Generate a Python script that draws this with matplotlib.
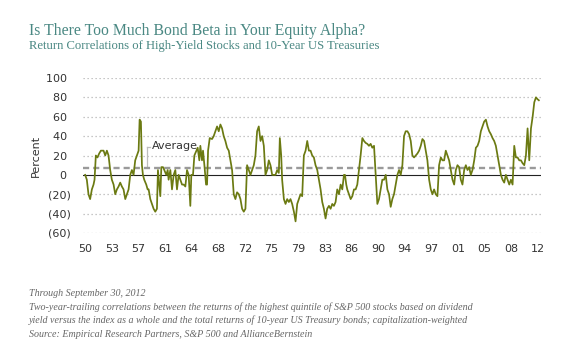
import matplotlib
matplotlib.use("Agg")
import matplotlib.pyplot as plt
import numpy as np

# ---- data ----
years = [
    1950.00, 1950.23, 1950.46, 1950.69, 1950.93, 1951.16, 1951.30, 1951.48, 1951.71, 1951.94,
    1952.18, 1952.55, 1952.78, 1953.01, 1953.24, 1953.47, 1953.70, 1953.94, 1954.17, 1954.40,
    1954.63, 1954.86, 1955.09, 1955.32, 1955.56, 1955.79, 1956.02, 1956.25, 1956.48, 1956.71,
    1956.94, 1957.18, 1957.41, 1957.55, 1957.73, 1957.87, 1958.01, 1958.19, 1958.47, 1958.66,
    1958.80, 1959.03, 1959.26, 1959.49, 1959.72, 1959.95, 1960.09, 1960.28, 1960.42, 1960.56,
    1960.79, 1960.97, 1961.25, 1961.44, 1961.57, 1961.81, 1962.04, 1962.27, 1962.50, 1962.73,
    1962.96, 1963.19, 1963.43, 1963.66, 1963.89, 1964.12, 1964.35, 1964.58, 1964.72, 1964.95,
    1965.14, 1965.42, 1965.60, 1965.83, 1965.97, 1966.20, 1966.34, 1966.53, 1966.76, 1966.90,
    1967.04, 1967.27, 1967.59, 1967.82, 1968.06, 1968.29, 1968.52, 1968.75, 1968.98, 1969.21,
    1969.44, 1969.68, 1969.91, 1970.14, 1970.37, 1970.60, 1970.83, 1971.06, 1971.30, 1971.53,
    1971.76, 1971.99, 1972.22, 1972.45, 1972.69, 1972.92, 1973.15, 1973.38, 1973.61, 1973.84,
    1974.07, 1974.31, 1974.54, 1974.77, 1975.00, 1975.23, 1975.46, 1975.69, 1975.93, 1976.16,
    1976.39, 1976.62, 1976.85, 1976.99, 1977.18, 1977.31, 1977.55, 1977.78, 1978.01, 1978.24,
    1978.47, 1978.70, 1978.94, 1979.17, 1979.40, 1979.63, 1979.86, 1980.09,
    1980.32, 1980.56, 1980.79, 1981.02, 1981.25, 1981.48, 1981.71, 1981.94, 1982.18, 1982.41,
    1982.64, 1982.87, 1983.10, 1983.33, 1983.56, 1983.80, 1984.03, 1984.26, 1984.49, 1984.72,
    1984.95, 1985.19, 1985.42, 1985.65, 1985.88, 1986.02, 1986.20, 1986.34, 1986.57, 1986.81,
    1987.04, 1987.27, 1987.50, 1987.73, 1987.96, 1988.19, 1988.43, 1988.66, 1988.89, 1989.12,
    1989.35, 1989.58, 1989.81, 1990.05, 1990.28, 1990.51, 1990.74, 1990.97, 1991.20, 1991.44,
    1991.67, 1991.90, 1992.13, 1992.36, 1992.59, 1992.82, 1993.06, 1993.29, 1993.52, 1993.75,
    1993.98, 1994.21, 1994.44, 1994.68, 1994.91, 1995.14, 1995.37, 1995.60, 1995.83, 1996.06,
    1996.30, 1996.53, 1996.76, 1996.99, 1997.22, 1997.45, 1997.69, 1997.92, 1998.15, 1998.38,
    1998.61, 1998.84, 1999.07, 1999.31, 1999.54, 1999.77, 2000.00, 2000.23, 2000.46, 2000.69,
    2000.93, 2001.16, 2001.39, 2001.62, 2001.85, 2002.08, 2002.31, 2002.55, 2002.78, 2003.01,
    2003.24, 2003.47, 2003.70, 2003.94, 2004.17, 2004.40, 2004.63, 2004.86, 2005.09, 2005.32,
    2005.56, 2005.79, 2006.02, 2006.25, 2006.48, 2006.71, 2006.94, 2007.18, 2007.41, 2007.64,
    2007.87, 2008.10, 2008.33, 2008.56, 2008.80, 2009.03, 2009.26, 2009.49, 2009.72, 2009.95,
    2010.19, 2010.42, 2010.65, 2010.88, 2011.11, 2011.34, 2011.57, 2011.81, 2012.04, 2012.27,
    2012.50, 2012.73, 2012.90,
]
correlation = [
    0, -5, -20, -25, -15, -10, -5, 20, 18, 22,
    25, 25, 20, 25, 20, 5, -5, -10, -20, -15,
    -12, -8, -12, -15, -25, -20, -15, 0, 5, 0,
    15, 20, 25, 57, 55, 10, 0, -5, -10, -15,
    -15, -25, -30, -35, -38, -35, 5, -10, -22, 8,
    8, 5, 0, 5, -5, 5, -15, 0, 5, -15,
    0, -5, -10, -10, -12, 5, 0, -32, 0, 0,
    20, 25, 28, 15, 30, 15, 25, 10, -10, -10,
    25, 38, 37, 40, 45, 50, 45, 52, 48, 40,
    35, 28, 25, 15, 5, -20, -25, -18, -20, -25,
    -35, -38, -35, 10, 5, 0, 5, 10, 20, 45,
    50, 35, 40, 30, 0, 5, 15, 10, 0, 0,
    0, 5, 2, 38, 20, -5, -25, -30, -25, -28,
    -25, -30, -38, -48, -30, -25, -20, -22,
    20, 25, 35, 25, 25, 20, 18, 10, 5, -5,
    -15, -28, -35, -45, -35, -32, -35, -30, -32, -28,
    -15, -20, -10, -15, 0, 0, -10, -15, -20, -25,
    -22, -15, -15, -10, 5, 20, 38, 35, 33, 32,
    30, 32, 28, 30, 0, -30, -25, -15, -5, -5,
    0, -15, -20, -33, -25, -20, -10, 0, 5, 0,
    10, 40, 45, 45, 42, 35, 20, 18, 20, 22,
    25, 30, 37, 35, 25, 15, -5, -15, -20, -15,
    -20, -22, 10, 18, 15, 15, 25, 20, 15, 5,
    -5, -10, 5, 10, 8, -5, -10, 5, 10, 5,
    8, 0, 5, 15, 28, 30, 35, 45, 50, 55,
    57, 50, 45, 42, 38, 35, 30, 20, 10, 0,
    -5, -8, 0, -5, -10, -5, -10, 30, 18, 18,
    15, 15, 12, 10, 20, 48, 15, 48, 60, 75,
    80, 78, 77,
]
average = 7.5
tick_labels = ["50", "53", "57", "61", "64", "68", "72", "75", "79",
               "83", "86", "90", "94", "97", "01", "05", "08", "12"]
y_ticks = [-60, -40, -20, 0, 20, 40, 60, 80, 100]

title = "Is There Too Much Bond Beta in Your Equity Alpha?"
subtitle = "Return Correlations of High-Yield Stocks and 10-Year US Treasuries"
notes = [
    "Through September 30, 2012",
    "Two-year-trailing correlations between the returns of the highest quintile of S&P 500 stocks based on dividend",
    "yield versus the index as a whole and the total returns of 10-year US Treasury bonds; capitalization-weighted",
    "Source: Empirical Research Partners, S&P 500 and AllianceBernstein",
]

# ---- figure ----
W, H = 580, 361
fig = plt.figure(figsize=(W / 100, H / 100), dpi=100)
fig.patch.set_facecolor("white")

def fx(px):
    return px / W

def fy(py):
    return 1 - py / H

ax = fig.add_axes([fx(83), fy(233), fx(541) - fx(83), fy(78) - fy(233)])
ax.set_xlim(1949.7, 2013.2)
ax.set_ylim(-60, 100)
for s in ax.spines.values():
    s.set_visible(False)

# gridlines
for v in y_ticks:
    if v != 0:
        ax.axhline(v, color="#b5b5b5", lw=0.9, ls=(0, (1, 2.2)), zorder=1)
ax.axhline(0, color="#222222", lw=0.8, zorder=2)
ax.axhline(average, color="#9a9a9a", lw=1.7, ls=(0, (2.6, 1.7)), zorder=3)

ax.plot(years, correlation, color="#6b7a12", lw=1.25, zorder=4, solid_joinstyle="round")

# ticks
tick_pos = np.linspace(1950, 2012.78, len(tick_labels))
ax.set_xticks(tick_pos)
ax.set_xticklabels(tick_labels)
ax.set_yticks(y_ticks)
ax.set_yticklabels([f"({-v})" if v < 0 else f"{v} " for v in y_ticks])
ax.tick_params(axis="both", length=0, labelsize=8, labelcolor="#333333",
               labelfontfamily="DejaVu Sans")
ax.tick_params(axis="x", pad=8)
ax.tick_params(axis="y", pad=9)
ax.set_ylabel("Percent", fontsize=8, color="#333333", labelpad=4)

# Average annotation
ax.plot([1958.6, 1958.6], [average + 2, 29], color="#bdbdbd", lw=0.9, zorder=2)
ax.plot([1958.6, 1959.0], [29, 29], color="#bdbdbd", lw=0.9, zorder=2)
ax.text(1959.3, 29.5, "Average", fontsize=8, color="#333333", va="center", ha="left")

# titles
teal = "#4a8883"
fig.text(fx(29), fy(35), title, fontsize=11.3, family="Liberation Serif", color=teal,
         ha="left", va="baseline")
fig.text(fx(29), fy(49.5), subtitle, fontsize=9.1, family="Liberation Serif", color=teal,
         ha="left", va="baseline")

# notes
for i, line in enumerate(notes):
    fig.text(fx(29), fy(296 + i * 13.6), line, fontsize=7.2, family="Liberation Serif",
             style="italic", color="#666666", ha="left", va="baseline")

fig.savefig("out.png", dpi=100, facecolor="white")
